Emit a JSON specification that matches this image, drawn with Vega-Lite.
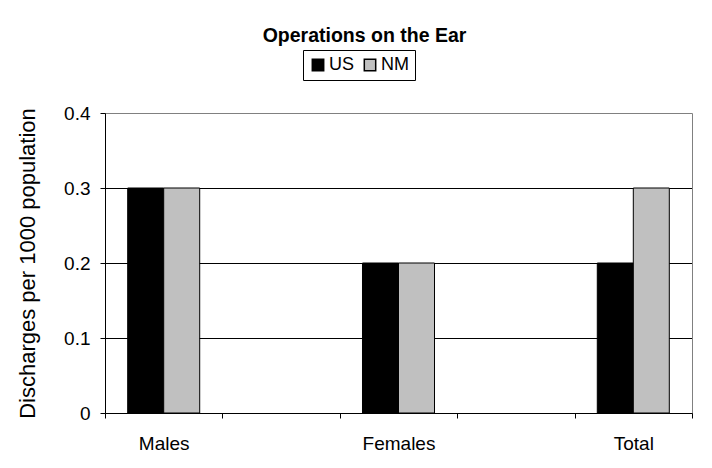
{
  "$schema": "https://vega.github.io/schema/vega-lite/v6.json",
  "width": 587,
  "height": 300,
  "autosize": "none",
  "padding": {"left": 105, "top": 113, "right": 20, "bottom": 55},
  "background": "white",
  "title": {
    "text": "Operations on the Ear",
    "font": "Liberation Sans",
    "fontSize": 19.5,
    "fontWeight": "bold",
    "color": "black",
    "anchor": "middle",
    "dx": -34,
    "offset": 3
  },
  "datasets": {
    "bars": [
      {"group": "Males", "series": "US", "value": 0.3},
      {"group": "Males", "series": "NM", "value": 0.3},
      {"group": "Females", "series": "US", "value": 0.2},
      {"group": "Females", "series": "NM", "value": 0.2},
      {"group": "Total", "series": "US", "value": 0.2},
      {"group": "Total", "series": "NM", "value": 0.3}
    ],
    "grid": [
      {"value": 0.1},
      {"value": 0.2},
      {"value": 0.3}
    ]
  },
  "layer": [
    {
      "data": {"name": "grid"},
      "mark": {"type": "rule", "color": "black", "strokeWidth": 1, "yOffset": 0.5},
      "encoding": {
        "y": {"field": "value", "type": "quantitative"}
      }
    },
    {
      "data": {"name": "bars"},
      "mark": {"type": "bar", "stroke": "black", "strokeWidth": 1},
      "encoding": {
        "x": {
          "field": "group",
          "type": "nominal",
          "scale": {"domain": ["Males", " ", "Females", "  ", "Total"], "paddingInner": 0, "paddingOuter": 0},
          "axis": {
            "title": null,
            "labelAngle": 0,
            "tickBand": "extent",
            "grid": false,
            "tickSize": 5,
            "tickColor": "black",
            "domainColor": "black",
            "labelPadding": 16,
            "labelFontSize": 19,
            "labelFont": "Liberation Sans",
            "labelColor": "black"
          }
        },
        "xOffset": {
          "field": "series",
          "type": "nominal",
          "sort": ["US", "NM"],
          "scale": {"paddingInner": 0, "paddingOuter": 0.63}
        },
        "y": {
          "field": "value",
          "type": "quantitative",
          "scale": {"domain": [0, 0.4]},
          "axis": {
            "title": "Discharges per 1000 population",
            "titleFont": "Liberation Sans",
            "titleFontSize": 22,
            "titleFontWeight": "normal",
            "titleColor": "black",
            "titlePadding": 24,
            "values": [0, 0.1, 0.2, 0.3, 0.4],
            "format": ".1~f",
            "labelFont": "Liberation Sans",
            "labelFontSize": 19,
            "labelColor": "black",
            "labelPadding": 10,
            "tickSize": 5,
            "tickColor": "black",
            "domainColor": "black",
            "grid": false
          }
        },
        "color": {
          "field": "series",
          "type": "nominal",
          "sort": ["US", "NM"],
          "scale": {"domain": ["US", "NM"], "range": ["black", "#c0c0c0"]},
          "legend": {
            "title": null,
            "orient": "none",
            "direction": "horizontal",
            "legendX": 198,
            "legendY": -63,
            "strokeColor": "black",
            "padding": 6,
            "symbolType": "square",
            "symbolSize": 130,
            "symbolStrokeColor": "black",
            "labelFont": "Liberation Sans",
            "labelFontSize": 18,
            "labelColor": "black",
            "labelOffset": 2,
            "columnPadding": 6
          }
        }
      }
    }
  ],
  "config": {
    "view": {"stroke": "#808080", "strokeWidth": 1}
  }
}
